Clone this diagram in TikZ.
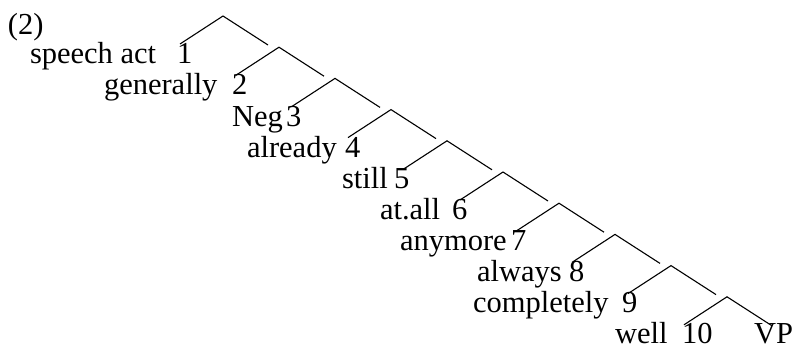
\documentclass[tikz,border=0pt]{standalone}
\usepackage{fontspec}
\setmainfont{Liberation Serif}
\begin{document}
\begin{tikzpicture}[x=1pt,y=-1pt]
\tikzset{
  lbl/.style={anchor=base west, inner sep=0pt, outer sep=0pt,
              font=\fontsize{30.5}{30}\selectfont},
  branch/.style={line width=1.1pt, line join=miter}
}
\useasboundingbox (0,0) rectangle (797,350);

% example number
\node[lbl] (ex) at (8,35) {(2)};

% right-branching spine: apex, left daughter end, right daughter end
\foreach \i in {1,...,10} {
  \coordinate (a\i) at ({223+56*(\i-1)},{16+31.2*(\i-1)});
  \coordinate (l\i) at ({223+56*(\i-1)-43},{16+31.2*(\i-1)+28});
  \coordinate (r\i) at ({223+56*(\i-1)+45},{16+31.2*(\i-1)+29});
  \draw[branch] (l\i) -- (a\i) -- (r\i);
}

% adverb / head labels with their position numbers
\foreach \i/\txt/\tx/\nx in {
  1/speech act/30/177,
  2/generally/104/232,
  3/Neg/232/286,
  4/already/247/345,
  5/still/342/394,
  6/at.all/380/452,
  7/anymore/400/511,
  8/always/477/569,
  9/completely/473/622,
  10/well/615/682} {
  \node[lbl] (t\i) at (\tx,{64+31*(\i-1)}) {\txt};
  \node[lbl] (n\i) at (\nx,{64+31*(\i-1)}) {\i};
}
\node[lbl] (vp) at (754,343) {VP};
\end{tikzpicture}
\end{document}
